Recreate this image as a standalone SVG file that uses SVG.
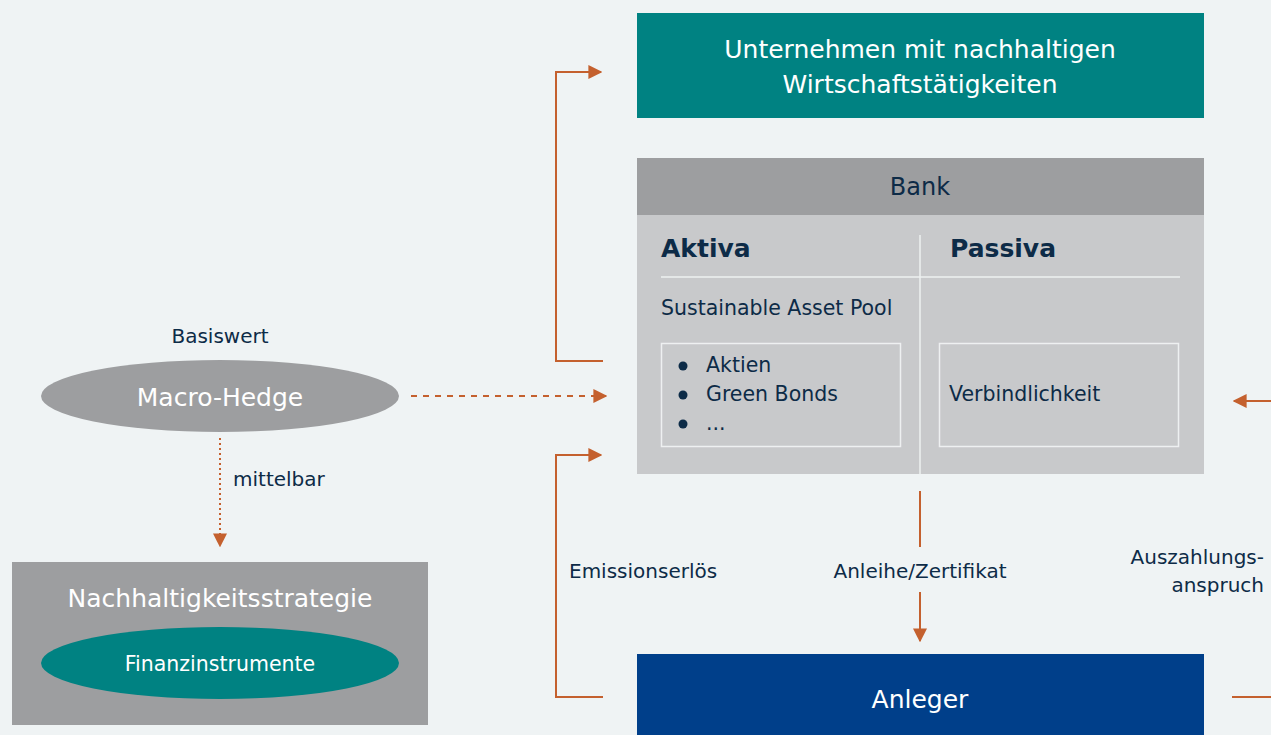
<svg xmlns="http://www.w3.org/2000/svg" width="1271" height="735" viewBox="0 0 1271 735">
<style>
text{font-family:"DejaVu Sans",sans-serif;}
.dk{fill:#0d2b47;}
.wh{fill:#ffffff;}
.ln{stroke:#c4602e;stroke-width:2;fill:none;}
</style>
<defs>
<marker id="ah" viewBox="0 0 10 10" refX="9" refY="5" markerWidth="14" markerHeight="14" markerUnits="userSpaceOnUse" orient="auto">
<path d="M0,0 L10,5 L0,10 Z" fill="#c4602e"/>
</marker>
</defs>
<rect width="1271" height="735" fill="#eff3f4"/>
<g id="connectors">
<polyline class="ln" points="603,361 556,361 556,72 601,72" marker-end="url(#ah)"/>
<polyline class="ln" points="603,697 556,697 556,455 601,455" marker-end="url(#ah)"/>
<line class="ln" x1="411" y1="396" x2="606" y2="396" stroke-dasharray="6,6" marker-end="url(#ah)"/>
<line class="ln" x1="220" y1="438" x2="220" y2="546" stroke-dasharray="2,3" stroke-width="1.5" marker-end="url(#ah)"/>
<line class="ln" x1="920" y1="491" x2="920" y2="547"/>
<line class="ln" x1="920" y1="592" x2="920" y2="641" marker-end="url(#ah)"/>
<line class="ln" x1="1271" y1="401" x2="1234" y2="401" marker-end="url(#ah)"/>
<line class="ln" x1="1232" y1="697" x2="1271" y2="697"/>
<text class="dk" x="569" y="578" font-size="20">Emissionserlös</text>
<text class="dk" x="920" y="578" font-size="20" text-anchor="middle">Anleihe/Zertifikat</text>
<text class="dk" x="1264" y="564" font-size="20" text-anchor="end">Auszahlungs-</text>
<text class="dk" x="1264" y="592" font-size="20" text-anchor="end">anspruch</text>
<text class="dk" x="233" y="486" font-size="20">mittelbar</text>
</g>
<g id="unternehmen">
<rect x="637" y="13" width="567" height="105" fill="#008282"/>
<text class="wh" x="920" y="58" font-size="25" text-anchor="middle">Unternehmen mit nachhaltigen</text>
<text class="wh" x="920" y="93" font-size="25" text-anchor="middle">Wirtschaftstätigkeiten</text>
</g>
<g id="bank">
<rect x="637" y="158" width="567" height="57" fill="#9d9ea0"/>
<rect x="637" y="215" width="567" height="259" fill="#c8c9cb"/>
<text class="dk" x="920" y="195" font-size="24" text-anchor="middle">Bank</text>
<line x1="920" y1="235" x2="920" y2="474" stroke="#eef0f1" stroke-width="1.5"/>
<line x1="661" y1="277" x2="1180" y2="277" stroke="#eef0f1" stroke-width="1.5"/>
<text class="dk" x="661" y="257" font-size="25" font-weight="bold">Aktiva</text>
<text class="dk" x="950" y="257" font-size="25" font-weight="bold">Passiva</text>
<text class="dk" x="661" y="315" font-size="20.5">Sustainable Asset Pool</text>
<rect x="661.5" y="343.5" width="239" height="103" fill="none" stroke="#eef0f1" stroke-width="1.5"/>
<rect x="939.5" y="343.5" width="239" height="103" fill="none" stroke="#eef0f1" stroke-width="1.5"/>
<circle cx="683" cy="366" r="4.5" fill="#0d2b47"/>
<circle cx="683" cy="395" r="4.5" fill="#0d2b47"/>
<circle cx="683" cy="424" r="4.5" fill="#0d2b47"/>
<text class="dk" x="706" y="372" font-size="20.5">Aktien</text>
<text class="dk" x="706" y="401" font-size="20.5">Green Bonds</text>
<text class="dk" x="706" y="430" font-size="20.5">...</text>
<text class="dk" x="949" y="401" font-size="20.5">Verbindlichkeit</text>
</g>
<g id="anleger">
<rect x="637" y="654" width="567" height="81" fill="#003f8a"/>
<text class="wh" x="920" y="708" font-size="25" text-anchor="middle">Anleger</text>
</g>
<g id="macrohedge">
<text class="dk" x="220" y="343" font-size="20" text-anchor="middle">Basiswert</text>
<ellipse cx="220" cy="396" rx="179" ry="36" fill="#9d9ea0"/>
<text class="wh" x="220" y="406" font-size="25" text-anchor="middle">Macro-Hedge</text>
</g>
<g id="nachhaltigkeitsstrategie">
<rect x="12" y="562" width="416" height="163" fill="#9d9ea0"/>
<text class="wh" x="220" y="607" font-size="25" text-anchor="middle">Nachhaltigkeitsstrategie</text>
<ellipse cx="220" cy="663" rx="179" ry="36" fill="#008282"/>
<text class="wh" x="220" y="671" font-size="20.5" text-anchor="middle">Finanzinstrumente</text>
</g>
</svg>
